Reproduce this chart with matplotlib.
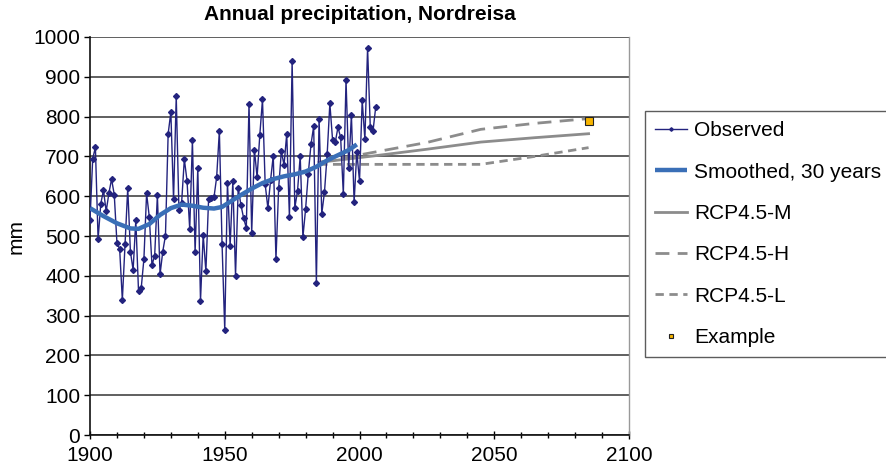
import numpy as np
import matplotlib
matplotlib.use('Agg')
import matplotlib.pyplot as plt
from matplotlib.ticker import MultipleLocator

plt.rcParams['font.family'] = ['Liberation Sans', 'DejaVu Sans']

# Observed annual precipitation (mm), 1900-2006
obs_years = np.arange(1900, 2007)
obs_values = [
    540, 694, 723, 492, 581, 615, 562, 607, 643, 604,   # 1900-1909
    482, 468, 339, 479, 620, 460, 415, 540, 362, 369,   # 1910-1919
    442, 607, 548, 427, 451, 602, 404, 461, 501, 757,   # 1920-1929
    811, 592, 851, 566, 584, 693, 639, 517, 740, 459,   # 1930-1939
    672, 337, 503, 411, 592, 595, 597, 648, 764, 480,   # 1940-1949
    264, 634, 476, 638, 400, 621, 578, 545, 520, 832,   # 1950-1959
    508, 717, 648, 753, 843, 630, 570, 640, 702, 442,   # 1960-1969
    620, 713, 678, 757, 547, 939, 571, 613, 701, 497,   # 1970-1979
    568, 657, 730, 776, 382, 795, 556, 610, 705, 833,   # 1980-1989
    742, 735, 773, 748, 605, 892, 672, 804, 585, 711,   # 1990-1999
    638, 841, 743, 973, 773, 763, 823,                  # 2000-2006
]

# 30-year smoothed curve
smooth_years = [1900, 1905, 1910, 1915, 1918, 1922, 1926, 1930, 1934, 1938,
                1942, 1946, 1949, 1952, 1956, 1960, 1964, 1968, 1972, 1976,
                1980, 1984, 1988, 1992, 1996, 1999]
smooth_values = [570, 550, 532, 519, 518, 530, 553, 570, 579, 576,
                 571, 569, 573, 586, 603, 619, 633, 643, 650, 655,
                 662, 674, 690, 703, 716, 730]

# RCP4.5 projections
proj_years = [1985, 2005, 2025, 2045, 2065, 2085]
rcp_m = [685, 701, 718, 736, 747, 757]
rcp_h = [685, 710, 735, 768, 783, 795]
rcp_l = [680, 680, 680, 680, 700, 722]

example_year = [2085]
example_value = [790]

fig = plt.figure(figsize=(8.87, 4.73), dpi=100)
ax = fig.add_axes([90 / 887, 1 - 435 / 473, (629 - 90) / 887, (435 - 37) / 473])

ax.plot(obs_years, obs_values, color='#23237e', lw=1.0, marker='D', ms=3.0,
        label='Observed', zorder=4)
ax.plot(smooth_years, smooth_values, color='#3a6fb7', lw=3.2,
        solid_capstyle='butt', label='Smoothed, 30 years', zorder=5)
ax.plot(proj_years, rcp_m, color='#8c8c8c', lw=2, label='RCP4.5-M', zorder=3)
ax.plot(proj_years, rcp_h, color='#8c8c8c', lw=2, ls=(0, (5, 3)),
        label='RCP4.5-H', zorder=3)
ax.plot(proj_years, rcp_l, color='#8c8c8c', lw=2, ls=(0, (3, 2)),
        label='RCP4.5-L', zorder=3)
ax.plot(example_year, example_value, ls='none', marker='s', ms=6,
        mfc='#f7b500', mec='#222222', mew=0.8, label='Example', zorder=6)

ax.set_xlim(1900, 2100)
ax.set_ylim(0, 1000)
ax.xaxis.set_major_locator(MultipleLocator(50))
ax.xaxis.set_minor_locator(MultipleLocator(10))
ax.yaxis.set_major_locator(MultipleLocator(100))
ax.tick_params(axis='x', which='both', direction='inout', length=6, width=1,
               labelsize=15, pad=5)
ax.tick_params(axis='x', which='minor', length=5)
ax.tick_params(axis='y', direction='out', length=4, width=1, labelsize=15, pad=3)

ax.grid(axis='y', color='#444444', lw=1.2)
ax.set_axisbelow(True)
for side in ['left', 'bottom']:
    ax.spines[side].set_color('#111111')
    ax.spines[side].set_linewidth(1.2)
ax.spines['top'].set_visible(False)
ax.spines['right'].set_color('#999999')
ax.spines['right'].set_linewidth(1)

ax.set_ylabel('mm', fontsize=15, labelpad=6)
ax.set_title('Annual precipitation, Nordreisa', fontsize=15, fontweight='bold', pad=12)

leg = fig.legend(loc='upper left', bbox_to_anchor=(645 / 887, 1 - 111 / 473),
                 borderaxespad=0, fontsize=15, frameon=True, fancybox=False,
                 handlelength=1.5, handletextpad=0.35, labelspacing=1.07,
                 borderpad=0.5, markerscale=0.6)
leg.get_frame().set_edgecolor('#333333')
leg.get_frame().set_linewidth(1)

fig.savefig('out.png', dpi=100)
